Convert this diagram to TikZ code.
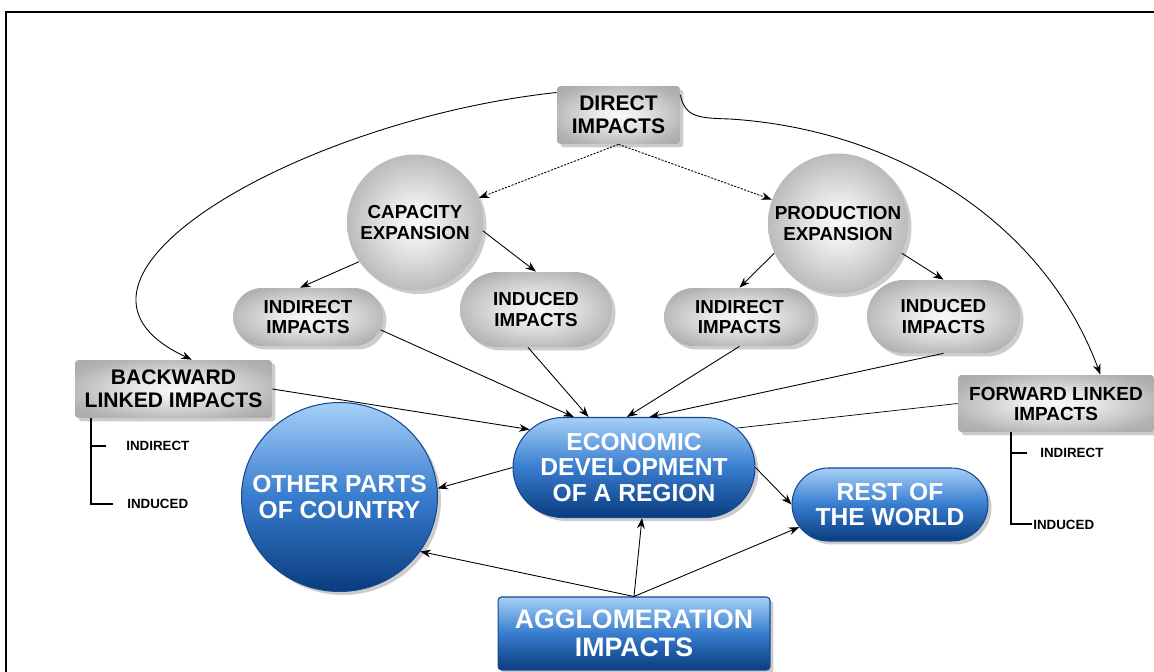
\documentclass[tikz,border=0pt]{standalone}
\usepackage{fontspec}
\setmainfont{Liberation Sans}
\usetikzlibrary{arrows.meta,shadows,shapes.geometric,shapes.misc}

\definecolor{blueTop}{RGB}{165,208,248}
\definecolor{blueMid}{RGB}{56,124,206}
\definecolor{blueBot}{RGB}{10,60,126}
\definecolor{blueLine}{RGB}{22,72,142}
\pgfdeclareradialshading{greyglow}{\pgfpoint{0bp}{0bp}}{%
  color(0bp)=(gray!6); color(8bp)=(gray!15); color(28bp)=(gray!60); color(50bp)=(gray!82)}

\tikzset{
  shadowed/.style={drop shadow={shadow xshift=0.07cm, shadow yshift=-0.07cm, fill=gray!40, opacity=1}},
  greyfill/.style={shading=greyglow, shadowed},
  bluefill/.style={draw=blueLine, line width=0.6pt, top color=blueTop, bottom color=blueBot,
    middle color=blueMid, text=white, shadowed},
  greybox/.style={greyfill, rectangle, rounded corners=2pt, inner sep=0pt,
    font=\bfseries\fontsize{12}{13}\selectfont},
  greyball/.style={greyfill, circle, inner sep=0pt, font=\bfseries\fontsize{10.7}{11.5}\selectfont},
  greypill/.style 2 args={greyfill, rounded rectangle, minimum width=#1-#2+0.14cm, minimum height=#2,
    inner xsep=-0.5*#2+2pt, font=\bfseries\fontsize{10.7}{11.5}\selectfont},
  bluetext/.style={text=white, font=\bfseries\fontsize{14}{14.7}\selectfont},
  bluepill/.style 2 args={bluefill, rounded rectangle, minimum width=#1-#2+0.14cm, minimum height=#2,
    inner xsep=-0.5*#2+2pt, bluetext},
  blueball/.style={bluefill, ellipse, inner sep=0pt},
  bluebox/.style={bluefill, rectangle, rounded corners=2pt, inner sep=0pt,
    font=\bfseries\fontsize{15.2}{16}\selectfont},
  tinylbl/.style={inner sep=0pt, font=\bfseries\fontsize{7.6}{9}\selectfont},
  arr/.style={-{Stealth[length=6pt,width=4.4pt]}, line width=0.5pt},
  dotarr/.style={arr, dash pattern=on 1.2pt off 0.8pt},
  tick/.style={line width=0.6pt}
}

\begin{document}
\begin{tikzpicture}[x=0.02cm, y=-0.02cm, every text node part/.style={align=center}]
    \useasboundingbox (0,0) rectangle (1154,672);
    \draw[line width=1.1pt] (6,672) -- (6,12) -- (1154,12);

    \node[greybox, minimum width=2.46cm, minimum height=1.16cm] (ImDir) at (618.5,115) {DIRECT\\IMPACTS};

    \node[greyball, minimum size=2.72cm] (ImCap) at (415,222.5) {CAPACITY\\EXPANSION};
    \node[greyball, minimum size=2.8cm] (ImPro) at (838,223.5) {PRODUCTION\\EXPANSION};

    \node[greypill={3cm}{1.16cm}] (ImInL) at (308,317) {INDIRECT\\IMPACTS};
    \node[greypill={3.04cm}{1.5cm}] (ImIdL) at (536,309.5) {INDUCED\\IMPACTS};
    \node[greypill={3.02cm}{1.16cm}] (ImInR) at (739.5,317) {INDIRECT\\IMPACTS};
    \node[greypill={3.06cm}{1.46cm}] (ImIdR) at (943.5,316.5) {INDUCED\\IMPACTS};

    \node[greybox, minimum width=3.94cm, minimum height=1.16cm] (ImBac) at (173.5,389) {BACKWARD\\LINKED IMPACTS};
    \node[greybox, minimum width=3.92cm, minimum height=1.14cm,
      font=\bfseries\fontsize{10.8}{11.4}\selectfont] (ImFor) at (1056,403.5) {FORWARD LINKED\\IMPACTS};

    \node[bluepill={4.84cm}{2cm}] (ImEco) at (634,467.5) {ECONOMIC\\DEVELOPMENT\\OF A REGION};
    \node[blueball, minimum width=3.92cm, minimum height=3.78cm,
      label={[bluetext]center:OTHER PARTS\\OF COUNTRY}] (ImOth) at (339.5,497) {};
    \node[bluepill={3.92cm}{1.46cm}] (ImRes) at (890,504.5) {REST OF\\THE WORLD};
    \node[bluebox, minimum width=5.44cm, minimum height=1.46cm] (ImAgg) at (634,633.5) {AGGLOMERATION\\IMPACTS};

    % sub-items of the linked impacts
    \node[tinylbl, anchor=west] (BaIndir) at (126,446) {INDIRECT};
    \node[tinylbl, anchor=west] (BaIndu) at (127,504) {INDUCED};
    \node[tinylbl, anchor=west] (FoIndir) at (1040,453) {INDIRECT};
    \node[tinylbl, anchor=west] (FoIndu) at (1033,525) {INDUCED};
    \coordinate (BaRoot) at (91,418);
    \coordinate (BaTickA) at (106,446);
    \coordinate (BaTickB) at (113,504);
    \coordinate (FoRoot) at (1011,432);
    \coordinate (FoTickA) at (1027,453);
    \coordinate (FoTickB) at (1032,524);
    \draw[tick] (BaRoot) |- (BaTickB);
    \draw[tick] (BaRoot |- BaTickA) -- (BaTickA);
    \draw[tick] (FoRoot) |- (FoTickB);
    \draw[tick] (FoRoot |- FoTickA) -- (FoTickA);

    \draw[dotarr] (ImDir.south) to (ImCap);
    \draw[dotarr] (ImDir.south) to (ImPro);
    \draw[arr] (ImDir.160) .. controls (300,120) and (20,280) .. (ImBac.58);
    \draw[arr] (ImDir.18) .. controls (685,118) and (700,118) .. (730,119)
      .. controls (900,130) and (1045,225) .. (ImFor.33);

    \draw[arr] (ImCap.215) to (ImInL.105);
    \draw[arr] (ImCap.353) to (ImIdL.north);
    \draw[arr] (ImPro.205) to (ImInR.north);
    \draw[arr] (ImPro.335) to (ImIdR.north);

    \draw[arr] (ImInL.350) to (ImEco.140);
    \draw[arr] (ImIdL.258) to (ImEco.132);
    \draw[arr] (ImInR.south) to (ImEco.98);
    \draw[arr] (ImIdR.south) to (ImEco.73);
    \draw[arr] (ImBac.east) to (ImEco.160);
    \draw (ImFor.west) to (ImEco.21);

    \draw[arr] (ImEco.west) to (ImOth.5);
    \draw[arr] (ImEco.east) to (ImRes.west);
    \draw[arr] (ImAgg.north) to (ImEco.279);
    \draw[arr] (ImAgg.north) to (ImOth.326);
    \draw[arr] (ImAgg.north) to (ImRes.194);
\end{tikzpicture}
\end{document}
